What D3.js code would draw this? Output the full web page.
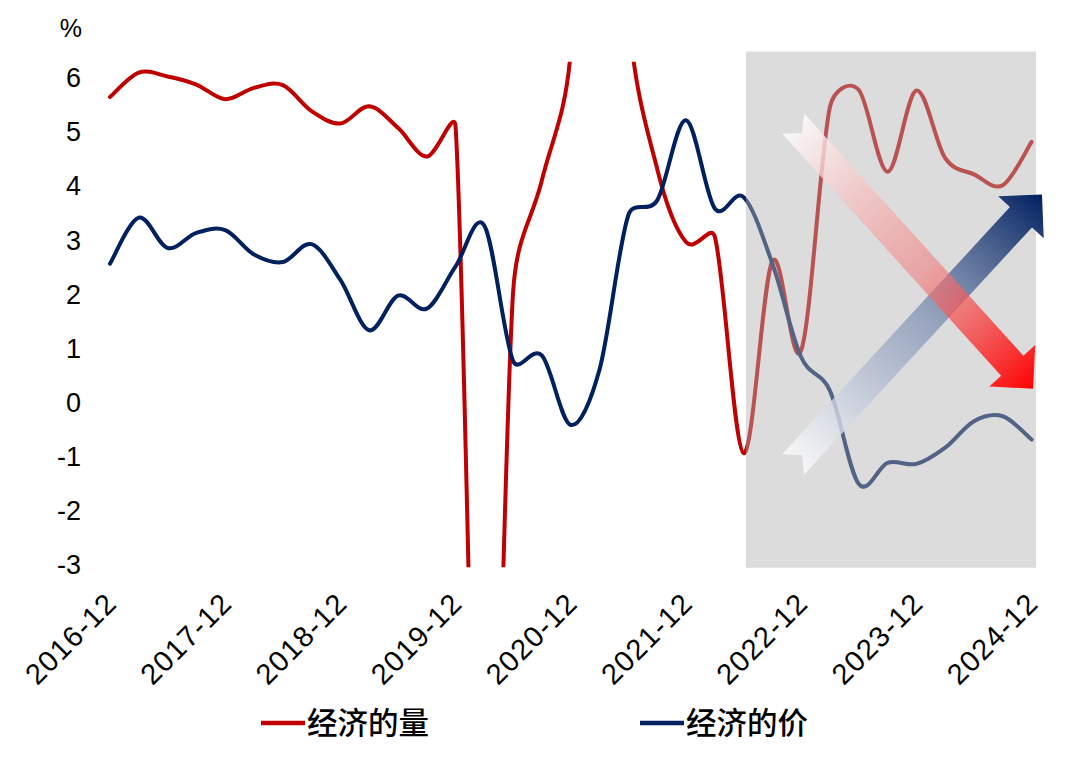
<!DOCTYPE html>
<html><head><meta charset="utf-8">
<script src="https://cdn.jsdelivr.net/npm/d3@7/dist/d3.min.js"></script>
<style>
html,body{margin:0;padding:0;background:#fff;}
svg{display:block;}
</style></head>
<body>
<svg id="chart" width="1080" height="760"></svg>
<script>
// ---- data ----
const quarters = ["2016-12","2017-03","2017-06","2017-09","2017-12","2018-03","2018-06","2018-09","2018-12",
  "2019-03","2019-06","2019-09","2019-12","2020-03","2020-06","2020-09","2020-12","2021-03","2021-06","2021-09",
  "2021-12","2022-03","2022-06","2022-09","2022-12","2023-03","2023-06","2023-09","2023-12","2024-03","2024-06",
  "2024-09","2024-12"];
const volume = [5.63,6.08,6.01,5.86,5.59,5.80,5.85,5.37,5.14,5.46,5.06,4.53,5.08,-12.0,2.05,4.1,6.5,18.3,7.2,4.3,
  2.95,3.05,-0.95,2.6,0.95,5.45,5.76,4.25,5.75,4.5,4.2,4.0,4.8];
const price = [2.55,3.40,2.84,3.12,3.17,2.72,2.58,2.91,2.25,1.32,1.96,1.72,2.50,3.25,0.75,0.85,-0.43,0.6,3.45,3.72,
  5.2,3.57,3.78,2.55,0.82,0.2,-1.52,-1.13,-1.15,-0.85,-0.36,-0.27,-0.70];
const xTickLabels = ["2016-12","2017-12","2018-12","2019-12","2020-12","2021-12","2022-12","2023-12","2024-12"];
const yTicks = [-3,-2,-1,0,1,2,3,4,5,6];
const seriesNames = ["经济的量","经济的价"];
const shade = {from: 22.08, to: 32.15, top: 6.47, bottom: -3.07};   // in index / value units
const arrowDown = {from: [23.72, 5.14], to: [32.05, 0.24]};
const arrowUp   = {from: [23.72, -1.16], to: [32.36, 3.83]};

// ---- layout ----
const svg = d3.select("#chart");
const x = d3.scalePoint().domain(quarters).range([110, 1031.6]);
const xi = d3.scaleLinear().domain([0, quarters.length - 1]).range([110, 1031.6]);
const y = d3.scaleLinear().domain([-3, 6]).range([564, 77]);
const red = "#c00000", blue = "#002060";
const numFont = "'Liberation Sans', Arial, sans-serif";
const cjkFont = "'Noto Sans CJK SC', sans-serif";

const defs = svg.append("defs");
defs.append("clipPath").attr("id","plotclip").append("rect")
  .attr("x", 0).attr("width", 1080).attr("y", y(6.28)).attr("height", y(-3.06) - y(6.28));

// y axis labels
const yAxis = d3.axisLeft(y).tickValues(yTicks).tickSize(0).tickPadding(0).tickFormat(d => String(d));
const gy = svg.append("g").attr("transform","translate(81,0)").call(yAxis);
gy.select(".domain").remove();
gy.selectAll("text").attr("font-family", numFont).attr("font-size", 27).attr("fill","#000").attr("dy","0.36em");

svg.append("text").attr("x", 82).attr("y", 37).attr("text-anchor","end")
  .attr("font-family", "'Liberation Sans Narrow', 'Liberation Sans', sans-serif").attr("font-size", 25).text("%");

// x axis labels
const xAxis = d3.axisBottom(x).tickValues(xTickLabels).tickSize(0).tickPadding(0);
const gx = svg.append("g").attr("transform","translate(0,580)").call(xAxis);
gx.select(".domain").remove();
gx.selectAll("text").attr("font-family", numFont).attr("font-size", 29).attr("letter-spacing", 1.2)
  .attr("fill","#000").attr("text-anchor","end").attr("dy", null).attr("y", 0)
  .attr("transform","translate(8,25) rotate(-45)");

// Excel-style smoothed line (Bezier, tangent/6, handles clamped to half the segment)
function smoothPath(values){
  const p = values.map((v,i) => [x(quarters[i]), y(v)]);
  const n = p.length;
  const tan = p.map((_, i) => {
    const a = p[Math.max(0, i-1)], b = p[Math.min(n-1, i+1)];
    return [(b[0]-a[0]) / 6, (b[1]-a[1]) / 6];
  });
  const path = d3.path();
  path.moveTo(p[0][0], p[0][1]);
  for (let i = 0; i < n - 1; i++){
    const d = Math.hypot(p[i+1][0]-p[i][0], p[i+1][1]-p[i][1]);
    const l1 = Math.hypot(tan[i][0], tan[i][1]), l2 = Math.hypot(tan[i+1][0], tan[i+1][1]);
    const s1 = l1 > 0 ? Math.min(1, d/2/l1) : 0, s2 = l2 > 0 ? Math.min(1, d/2/l2) : 0;
    path.bezierCurveTo(p[i][0] + tan[i][0]*s1, p[i][1] + tan[i][1]*s1,
                       p[i+1][0] - tan[i+1][0]*s2, p[i+1][1] - tan[i+1][1]*s2,
                       p[i+1][0], p[i+1][1]);
  }
  return path.toString();
}
const gl = svg.append("g").attr("clip-path","url(#plotclip)");
gl.append("path").attr("d", smoothPath(volume)).attr("fill","none").attr("stroke", red)
  .attr("stroke-width", 4).attr("stroke-linejoin","round").attr("stroke-linecap","round");
gl.append("path").attr("d", smoothPath(price)).attr("fill","none").attr("stroke", blue)
  .attr("stroke-width", 4).attr("stroke-linejoin","round").attr("stroke-linecap","round");

// shaded region
svg.append("rect").attr("x", xi(shade.from)).attr("width", xi(shade.to) - xi(shade.from))
  .attr("y", y(shade.top)).attr("height", y(shade.bottom) - y(shade.top))
  .attr("fill", "#b3b3b3").attr("fill-opacity", 0.46);

// arrows
function arrow(spec, id, stops){
  const T = [xi(spec.from[0]), y(spec.from[1])], P = [xi(spec.to[0]), y(spec.to[1])];
  const L = Math.hypot(P[0]-T[0], P[1]-T[1]);
  const u = [(P[0]-T[0])/L, (P[1]-T[1])/L], n = [-u[1], u[0]];
  const w = 15, hw = 31, hl = 31, nd = 13;
  const pt = (b, a, k) => [b[0] + u[0]*a + n[0]*k, b[1] + u[1]*a + n[1]*k];
  const pts = [pt(T,0,w), pt(P,-hl,w), pt(P,-hl,hw), P, pt(P,-hl,-hw), pt(P,-hl,-w), pt(T,0,-w), pt(T,nd,0)];
  const g = defs.append("linearGradient").attr("id", id).attr("gradientUnits","userSpaceOnUse")
    .attr("x1", T[0]).attr("y1", T[1]).attr("x2", P[0]).attr("y2", P[1]);
  stops.forEach(s => g.append("stop").attr("offset", s[0]).attr("stop-color", s[1]).attr("stop-opacity", s[2]));
  svg.append("path").attr("d", "M" + pts.map(p=>p.join(",")).join("L") + "Z").attr("fill", `url(#${id})`);
}
arrow(arrowUp, "gUp", [[0,"#ffffff",0.8],[0.55,"#7f90b3",0.75],[1,blue,1]]);
arrow(arrowDown, "gDown", [[0,"#ffffff",0.8],[0.55,"#f08080",0.6],[1,"#ff0000",1]]);

// legend
const legend = [{name: seriesNames[0], color: red, x: 261}, {name: seriesNames[1], color: blue, x: 640}];
const gleg = svg.append("g");
legend.forEach(l => {
  gleg.append("line").attr("x1", l.x).attr("x2", l.x + 44).attr("y1", 723).attr("y2", 723)
    .attr("stroke", l.color).attr("stroke-width", 4.5);
  gleg.append("text").attr("x", l.x + 46).attr("y", 734).attr("font-family", cjkFont)
    .attr("font-size", 30.5).attr("font-weight", 500).attr("fill","#000").text(l.name);
});
</script>
</body></html>
